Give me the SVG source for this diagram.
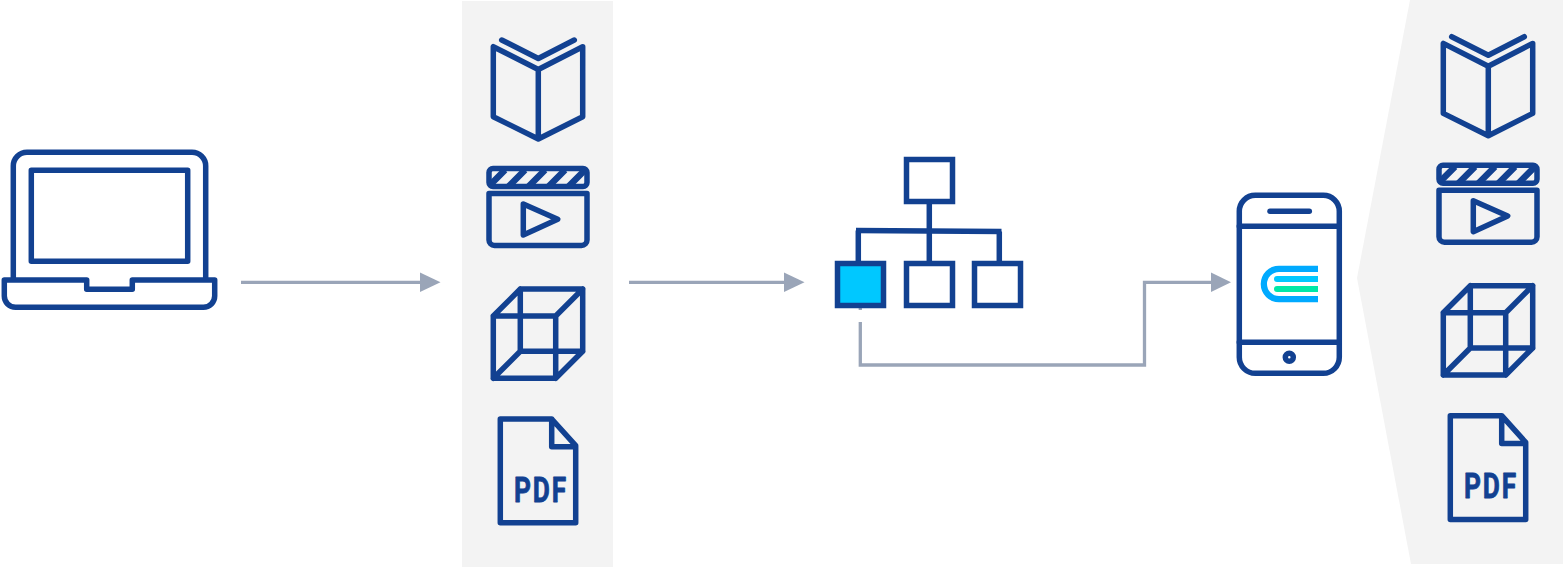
<svg xmlns="http://www.w3.org/2000/svg" xmlns:xlink="http://www.w3.org/1999/xlink" width="1563" height="573" viewBox="0 0 1563 573">
<style>
.ic{fill:none;stroke:#124191;stroke-width:5.500;stroke-linejoin:round;stroke-linecap:round}
.sq{fill:#fff;stroke:#124191;stroke-width:5.500;stroke-linejoin:miter}
.ln{fill:none;stroke:#124191;stroke-width:5.500}
.pn{fill:#f3f3f3}
.cn{fill:none;stroke:#9aa5b8;stroke-width:3.300}
.ah{fill:#9aa5b8}
.pdf{font-family:"Roboto","Liberation Sans",sans-serif;font-weight:700;font-size:35px;fill:#124191;stroke:#124191;stroke-width:.8;stroke-linejoin:round;letter-spacing:2.500px}
</style>
<defs>
<clipPath id="hdr"><rect x="489" y="169" width="98" height="17"/></clipPath>
<g id="i-book">
<path class="ic" d="M501.700 40L538.300 58.500L574.300 40"/>
<path class="ic" d="M538.300 69.500L493.300 46.700V116.700L538.300 139L582.700 116.700V46.700ZM538.300 69.500V139"/>
</g>
<g id="i-clap">
<rect class="ic" x="489" y="168.500" width="98" height="18" rx="4"/>
<g clip-path="url(#hdr)"><path class="ic" style="stroke-linecap:butt;stroke-width:6.500" d="M505 170L488 187M525 170L508 187M545 170L528 187M565 170L548 187M585 170L568 187"/></g>
<path class="ic" d="M489 193.500H587V240a5.500 5.500 0 0 1-5.500 5.500H494.500a5.500 5.500 0 0 1-5.500-5.500Z"/>
<path class="ic" d="M523.300 204L557.700 219.300L523.300 235Z"/>
</g>
<g id="i-cube">
<path class="ic" d="M493.300 316H555.700V378.300H493.300ZM520.300 289H582.700V351.300H520.300ZM493.300 316L520.300 289M555.700 316L582.700 289M555.700 378.300L582.700 351.300M493.300 378.300L520.300 351.300"/>
</g>
<g id="i-doc">
<path class="ic" d="M500.300 419H551.700L575.700 445.700V522.700H500.300ZM551.700 419V446.700H575.700"/>
</g>
</defs>
<rect width="1563" height="573" fill="#fff"/>
<rect id="panel-middle" class="pn" x="462" y="1" width="151" height="566"/>
<polygon id="panel-right" class="pn" points="1410,0 1563,0 1563,564 1411,564 1357,278"/>

<g id="connectors">
<path class="cn" d="M241 282.300H422"/>
<polygon class="ah" points="420,272.500 440.500,282.300 420,292"/>
<path class="cn" d="M629 282.300H786"/>
<polygon class="ah" points="784,272.500 804.500,282.300 784,292"/>
<path class="cn" d="M860.300 307V310M860.300 322V365H1144.500V282.300H1213"/>
<polygon class="ah" points="1211,272.500 1231,282.300 1211,292"/>
</g>

<g id="laptop">
<path class="ic" style="stroke-linecap:butt" d="M13.300 280V166a13.700 13.700 0 0 1 13.700-13.700H192a13.700 13.700 0 0 1 13.700 13.700V280"/>
<rect class="ic" x="31.300" y="170.300" width="156.400" height="91"/>
<path class="ic" d="M4.300 280H86.700V289.300H132.300V280H214.700V296a11.300 11.300 0 0 1-11.300 11.300H15.600a11.300 11.300 0 0 1-11.300-11.300Z"/>
</g>

<g id="book-left"><use href="#i-book"/></g>
<g id="video-left"><use href="#i-clap"/></g>
<g id="cube-left"><use href="#i-cube"/></g>
<g id="pdf-left"><use href="#i-doc"/><text class="pdf" x="514" y="501.700" textLength="54" lengthAdjust="spacingAndGlyphs">PDF</text></g>

<g id="org-lines">
<path class="ln" d="M929.300 203V261M858.300 261V230.500M999.300 261V231.500"/>
<path class="ln" d="M856 230.500L1001.500 231.500"/>
</g>
<g id="org-top"><rect class="sq" x="906.500" y="159.500" width="46" height="42"/></g>
<g id="org-a"><rect class="sq" style="fill:#00c8ff" x="837.500" y="263.500" width="46" height="42"/></g>
<g id="org-b"><rect class="sq" x="906.500" y="263.500" width="46" height="42"/></g>
<g id="org-c"><rect class="sq" x="974.500" y="263.500" width="46" height="42"/></g>

<g id="phone">
<rect class="ic" x="1239.300" y="195.300" width="100" height="178" rx="16"/>
<path class="ic" d="M1239.300 226.300H1339.300M1239.300 342.300H1339.300"/>
<path class="ic" d="M1270 211.300H1309.300"/>
<circle class="ic" cx="1289.300" cy="357.300" r="4"/>
<path fill="#00aaff" d="M1318 265.700H1279a18.300 18.300 0 0 0 0 36.600H1318V296H1279a12 12 0 0 1 0-24H1318Z"/>
<path fill="#00c8ff" d="M1277 276H1318V282H1277a3 3 0 0 1 0-6Z"/>
<path fill="#00e8a8" d="M1277 286H1318V292H1277a3 3 0 0 1 0-6Z"/>
</g>

<g id="book-right" transform="translate(950 -3.300)"><use href="#i-book"/></g>
<g id="video-right" transform="translate(950 -3.300)"><use href="#i-clap"/></g>
<g id="cube-right" transform="translate(950 -3.300)"><use href="#i-cube"/></g>
<g id="pdf-right" transform="translate(950 -3.300)"><use href="#i-doc"/><text class="pdf" x="514" y="501.700" textLength="54" lengthAdjust="spacingAndGlyphs">PDF</text></g>
</svg>
